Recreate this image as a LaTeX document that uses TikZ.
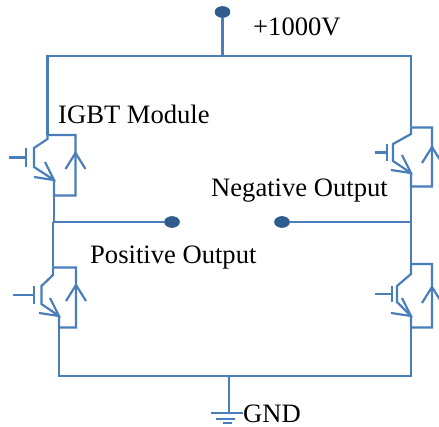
\documentclass[tikz,border=0pt]{standalone}
\usepackage{fontspec}
\setmainfont{Liberation Serif}
\definecolor{wireblue}{HTML}{4A7EBB}
\definecolor{dotblue}{HTML}{2F5C8F}
\tikzset{
  wire/.style={draw=wireblue,line width=2.2pt},
  terminal/.style={ellipse,draw=dotblue,fill=dotblue,line width=.6pt,minimum width=15pt,minimum height=11pt,inner sep=0pt},
  label/.style={anchor=base west,inner sep=0pt,font=\fontsize{26.6}{30}\selectfont}
}
\usetikzlibrary{shapes.geometric}
\begin{document}
\begin{tikzpicture}[x=1pt,y=-1pt]
\useasboundingbox (0,0) rectangle (439,427);
\node[terminal] (vcc) at (222.5,12) {};
\node[terminal] (outL) at (172,222) {};
\node[terminal] (outR) at (282,222) {};
\coordinate (railT) at (223,56);
\coordinate (railB) at (229,376);
\coordinate (gnd) at (229,413);
\node[label] (vccText) at (253,36) {+1000V};
\node[label] (igbtText) at (58,124) {IGBT Module};
\node[label] (negText) at (211,197) {Negative Output};
\node[label] (posText) at (90,264) {Positive Output};
\node[label] (gndText) at (243,422.5) {GND};
% name / collector x, junction y, diagonal y / bar x, top, bottom / gate x, lead x / emitter x, y / loop x, y / arrow y
\foreach \n/\c/\j/\d/\b/\t/\u/\g/\l/\e/\f/\r/\s/\a in {
  tl/47.5/135/139/34/148/167/26/9/54/180/75.5/195.5/153,
  bl/53/267.5/275/41.5/286/304/34/13/59/316/76/327.5/285,
  tr/411/127.5/134/393/144/161/387/375/411/173/432/186.5/147,
  br/411/264/274/397/286/302/392/375/411/316/432/327.5/287}{
  \coordinate (\n C) at (\c,\j);
  \coordinate (\n E) at (\e,\f);
  \coordinate (\n S) at (\e,\s);
  \draw[wire] (\n C) -- (\c,\d) -- (\b,\t) -- (\b,\u) -- (\n E) -- (\n S) -- (\r,\s) -- (\r,\j) -- (\n C);
  \draw[wire] (\g,\t) -- (\g,\u);
  \draw[wire] (\l,{(\t+\u)/2}) -- (\g,{(\t+\u)/2});
  \draw[wire] (\e-9,\f-18) -- (\n E) -- (\e-20,\f-3);
  \draw[wire] (\r-10,\a+16) -- (\r,\a) -- (\r+10,\a+16);
}
% rails
\draw[wire] (tlC) -- (tlC |- railT) -- (trC |- railT) -- (trC);
\draw[wire] (blS) -- (blS |- railB) -- (brS |- railB) -- (brS);
\draw[wire] (vcc) -- (railT -| vcc);
\draw[wire] (railB) -- (gnd);
% outputs
\draw[wire] (tlS) -- (tlS |- outL) -- (outL);
\draw[wire] (blC) -- (blC |- outL);
\draw[wire] (trS) -- (brC);
\draw[wire] (outR) -- (outR -| trS);
% ground
\draw[wire] (gnd) ++(-18,0) -- ++(32,0);
\draw[wire] (gnd) ++(-13,6) -- ++(19,0);
\draw[wire] (gnd) ++(-6,10) -- ++(9,0);
\end{tikzpicture}
\end{document}
